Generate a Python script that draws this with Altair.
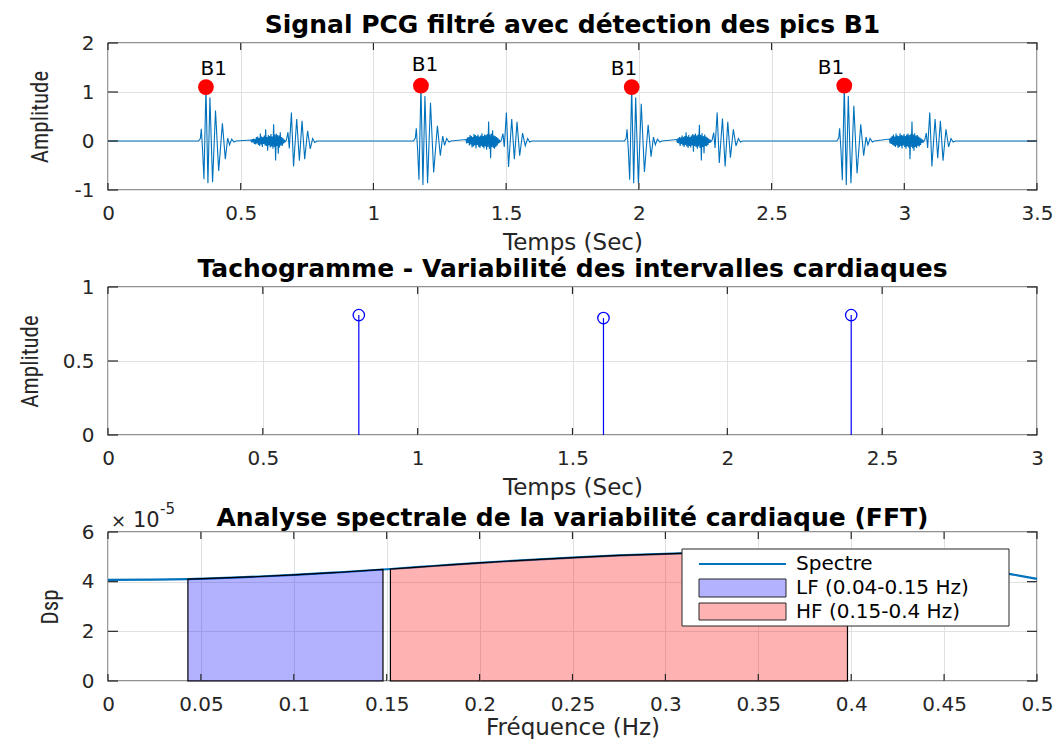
import altair as alt
import pandas as pd

# ---------------------------------------------------------------- style
FONT = "DejaVu Sans"
NARROW = "Liberation Sans Narrow, Roboto Condensed, Archivo Narrow, DejaVu Sans Condensed, sans-serif"
INK = "#262626"
GRID = "#e1e1e1"
SIG_BLUE = "#0072bd"
W = 929
H1, H2, H3 = 147, 148, 149

# ---------------------------------------------------------------- panel 1 : filtered PCG
t_end = 3.5
b1_peak_t = [0.369, 1.179, 1.973, 2.774]
b1_peak_amp = [1.10, 1.13, 1.10, 1.13]
b1_label_t = [0.398, 1.194, 1.944, 2.724]
b1_label_amp = [1.47, 1.55, 1.47, 1.48]

# S1 burst, sample offsets (ms) from each B1 peak, and the amplitude of each beat
s1_offset_ms = [-28, -21, -17.5, -12.5, -7.5, 0, 7.5, 15, 25, 36, 48, 62, 73, 82, 89, 97, 106, 113]
s1_amp = [
    [0, 0.05, 0.25, -0.20, -0.78, 1.10, -0.86, 0.89, -0.84, 0.62, -0.61, 0.36, -0.37, 0.06, -0.08, 0.04, -0.02, 0],
    [0, 0.06, 0.26, -0.18, -0.79, 1.13, -0.90, 0.92, -0.86, 0.78, -0.64, 0.31, -0.30, 0.10, -0.09, 0.05, -0.02, 0],
    [0, 0.05, 0.24, -0.20, -0.79, 1.10, -0.86, 0.89, -0.86, 0.76, -0.63, 0.33, -0.32, 0.08, -0.08, 0.04, -0.02, 0],
    [0, 0.06, 0.26, -0.20, -0.80, 1.13, -0.90, 0.92, -0.86, 0.72, -0.66, 0.34, -0.30, 0.08, -0.08, 0.05, -0.02, 0],
]

# S2 murmur-like noise, sampled every 2.5 ms from 170 ms after the peak
noise_start_ms = 170.0
noise_step_ms = 2.5
s2_noise = [
    [0.02, -0.03, 0.04, -0.03, 0.05, -0.06, 0.04, -0.07, 0.08, -0.05, 0.09, -0.08, 0.06, -0.10, 0.15, -0.07,
     0.09, -0.12, 0.08, -0.06, 0.11, -0.09, 0.24, -0.10, 0.08, -0.20, 0.12, -0.09, 0.10, -0.13, 0.14, -0.11,
     0.09, -0.16, 0.34, -0.12, 0.13, -0.40, 0.15, -0.10, 0.12, -0.26, 0.11, -0.13, 0.18, -0.09, 0.08, -0.10,
     0.06, -0.05, 0.03, -0.02],
    [0.03, -0.05, 0.07, -0.04, 0.08, -0.09, 0.12, -0.07, 0.10, -0.13, 0.08, -0.11, 0.14, -0.09, 0.12, -0.15,
     0.10, -0.08, 0.13, -0.12, 0.09, -0.14, 0.11, -0.10, 0.16, -0.12, 0.10, -0.15, 0.13, -0.11, 0.12, -0.18,
     0.14, -0.12, 0.40, -0.16, 0.13, -0.35, 0.15, -0.12, 0.22, -0.14, 0.11, -0.16, 0.10, -0.12, 0.08, -0.09,
     0.06, -0.05, 0.03, -0.02],
    [0.03, -0.04, 0.06, -0.05, 0.08, -0.10, 0.07, -0.06, 0.11, -0.09, 0.08, -0.12, 0.10, -0.08, 0.18, -0.11,
     0.09, -0.14, 0.12, -0.10, 0.08, -0.13, 0.11, -0.09, 0.14, -0.22, 0.12, -0.10, 0.15, -0.12, 0.11, -0.16,
     0.13, -0.11, 0.33, -0.14, 0.12, -0.40, 0.16, -0.12, 0.10, -0.25, 0.13, -0.10, 0.09, -0.11, 0.07, -0.08,
     0.05, -0.04, 0.03, -0.02],
    [0.04, -0.05, 0.07, -0.06, 0.10, -0.08, 0.13, -0.10, 0.09, -0.12, 0.15, -0.09, 0.11, -0.14, 0.10, -0.12,
     0.16, -0.10, 0.12, -0.15, 0.11, -0.09, 0.14, -0.12, 0.10, -0.16, 0.13, -0.11, 0.15, -0.13, 0.12, -0.37,
     0.14, -0.12, 0.40, -0.15, 0.13, -0.20, 0.16, -0.12, 0.11, -0.14, 0.12, -0.10, 0.09, -0.11, 0.07, -0.08,
     0.05, -0.04, 0.03, -0.02],
]

# S2 tonal part
s2_offset_ms = [303, 309, 314, 322, 330, 342, 352, 362, 372, 383, 393, 402, 410, 418]
s2_amp = [
    [0.02, 0.18, -0.15, 0.58, -0.52, 0.45, -0.40, 0.41, -0.37, 0.21, -0.16, 0.05, -0.03, 0],
    [0.02, 0.15, -0.12, 0.58, -0.53, 0.45, -0.37, 0.39, -0.30, 0.16, -0.10, 0.05, -0.02, 0],
    [0.02, 0.17, -0.14, 0.58, -0.45, 0.46, -0.52, 0.39, -0.34, 0.24, -0.10, 0.05, -0.02, 0],
    [0.02, 0.16, -0.14, 0.58, -0.52, 0.45, -0.35, 0.41, -0.40, 0.24, -0.12, 0.05, -0.02, 0],
]

p1_xticks = [0, 0.5, 1, 1.5, 2, 2.5, 3, 3.5]
p1_yticks = [-1, 0, 1, 2]

# ---------------------------------------------------------------- panel 2 : tachogram
rr_t = [0.81, 1.60, 2.40]
rr_val = [0.81, 0.79, 0.81]
p2_xticks = [0, 0.5, 1, 1.5, 2, 2.5, 3]
p2_yticks = [0, 0.5, 1]

# ---------------------------------------------------------------- panel 3 : HRV spectrum (x 1e-5)
freq = [0, 0.025, 0.043, 0.07, 0.1, 0.125, 0.148, 0.152, 0.175, 0.2, 0.225, 0.25,
        0.275, 0.3, 0.325, 0.35, 0.375, 0.398, 0.425, 0.45, 0.475, 0.4875, 0.5]
dsp_e5 = [4.07, 4.08, 4.10, 4.17, 4.27, 4.38, 4.49, 4.51, 4.63, 4.76, 4.87, 4.97,
          5.06, 5.12, 5.16, 5.17, 5.14, 5.07, 4.90, 4.69, 4.44, 4.28, 4.11]
lf_band = (0.04, 0.15)
hf_band = (0.15, 0.40)
legend_labels = ["Spectre", "LF (0.04-0.15 Hz)", "HF (0.15-0.4 Hz)"]
p3_xticks = [0, 0.05, 0.1, 0.15, 0.2, 0.25, 0.3, 0.35, 0.4, 0.45, 0.5]
p3_yticks = [0, 2, 4, 6]

# ---------------------------------------------------------------- tables
rows = [(0.0, 0.0)]
for k, t0 in enumerate(b1_peak_t):
    for dt, a in zip(s1_offset_ms, s1_amp[k]):
        rows.append((t0 + dt / 1000, a))
    for i, a in enumerate(s2_noise[k]):
        rows.append((t0 + (noise_start_ms + i * noise_step_ms) / 1000, a))
    for dt, a in zip(s2_offset_ms, s2_amp[k]):
        rows.append((t0 + dt / 1000, a))
rows.append((t_end, 0.0))
pcg = pd.DataFrame(rows, columns=["t", "amp"])
pcg["i"] = range(len(pcg))

peaks = pd.DataFrame({"t": b1_peak_t, "amp": b1_peak_amp})
labels = pd.DataFrame({"t": b1_label_t, "amp": b1_label_amp, "txt": ["B1"] * len(b1_label_t)})
tach = pd.DataFrame({"t": rr_t, "v": rr_val, "base": [0.0] * len(rr_t)})
spec = pd.DataFrame({"f": freq, "p": dsp_e5})
lf = spec[(spec.f >= lf_band[0]) & (spec.f <= lf_band[1])]
hf = spec[(spec.f > hf_band[0]) & (spec.f <= hf_band[1])]

LABEL_EXPR = "'' + datum.value"


def x_axis(values, title, tpad=8):
    return alt.Axis(values=values, title=title, grid=True, labelExpr=LABEL_EXPR,
                    labelPadding=13, titlePadding=tpad, labelFlush=False, labelOverlap=False)


def y_axis(values, title, tpad):
    return alt.Axis(values=values, title=title, grid=True, labelExpr=LABEL_EXPR,
                    labelPadding=14, titlePadding=tpad, titleFont=NARROW, titleFontSize=23)


def panel_title(text, offset=-5):
    return alt.Title(text, offset=offset)


def inner_ticks(X, Y, xticks, yticks, h):
    """MATLAB-style ticks drawn inside the box on all four sides."""
    xt = alt.Chart(pd.DataFrame({"v": xticks}))
    yt = alt.Chart(pd.DataFrame({"v": yticks}))
    kw = dict(color=INK, strokeWidth=1.2)
    return [
        xt.mark_rule(**kw).encode(x=X("v:Q"), y=alt.value(h), y2=alt.value(h - 7)),
        xt.mark_rule(**kw).encode(x=X("v:Q"), y=alt.value(0), y2=alt.value(7)),
        yt.mark_rule(**kw).encode(y=Y("v:Q"), x=alt.value(0), x2=alt.value(10)),
        yt.mark_rule(**kw).encode(y=Y("v:Q"), x=alt.value(W), x2=alt.value(W - 10)),
    ]


def channel_maker(enc, scale, axis):
    """Every layer of a panel shares one scale and one identical axis definition."""
    return lambda field: enc(field, scale=scale, axis=axis)


# ---------------------------------------------------------------- panel 1
X1 = channel_maker(alt.X, alt.Scale(domain=[0, 3.5], nice=False, zero=False), x_axis(p1_xticks, "Temps (Sec)"))
Y1 = channel_maker(alt.Y, alt.Scale(domain=[-1, 2], nice=False, zero=False), y_axis(p1_yticks, "Amplitude", 22))
sig = alt.Chart(pcg).mark_line(color=SIG_BLUE, strokeWidth=1.1, clip=True).encode(
    x=X1("t:Q"), y=Y1("amp:Q"), order="i:Q")
dots = alt.Chart(peaks).mark_circle(color="#ff0000", size=250, opacity=1).encode(x=X1("t:Q"), y=Y1("amp:Q"))
b1_txt = alt.Chart(labels).mark_text(font=FONT, fontSize=20, color="black").encode(
    x=X1("t:Q"), y=Y1("amp:Q"), text="txt:N")
panel1 = alt.layer(sig, dots, b1_txt, *inner_ticks(X1, Y1, p1_xticks, p1_yticks, H1)).properties(
    width=W, height=H1, title=panel_title("Signal PCG filtré avec détection des pics B1"))

# ---------------------------------------------------------------- panel 2
X2 = channel_maker(alt.X, alt.Scale(domain=[0, 3], nice=False, zero=False), x_axis(p2_xticks, "Temps (Sec)"))
Y2 = channel_maker(alt.Y, alt.Scale(domain=[0, 1], nice=False, zero=False), y_axis(p2_yticks, "Amplitude", 20))
stems = alt.Chart(tach).mark_rule(color="#0000ff", strokeWidth=1.2).encode(
    x=X2("t:Q"), y=Y2("base:Q"), y2="v:Q")
heads = alt.Chart(tach).mark_point(shape="circle", filled=False, color="#0000ff", size=130,
                                   strokeWidth=1.3, opacity=1).encode(x=X2("t:Q"), y=Y2("v:Q"))
panel2 = alt.layer(stems, heads, *inner_ticks(X2, Y2, p2_xticks, p2_yticks, H2)).properties(
    width=W, height=H2, title=panel_title("Tachogramme - Variabilité des intervalles cardiaques"))

# ---------------------------------------------------------------- panel 3
X3 = channel_maker(alt.X, alt.Scale(domain=[0, 0.5], nice=False, zero=False),
                   x_axis(p3_xticks, "Fréquence (Hz)", tpad=2))
Y3 = channel_maker(alt.Y, alt.Scale(domain=[0, 6], nice=False, zero=False), y_axis(p3_yticks, "Dsp", 19))
spec_line = alt.Chart(spec).mark_line(color=SIG_BLUE, strokeWidth=2.2, interpolate="monotone").encode(
    x=X3("f:Q"), y=Y3("p:Q"))


def band(df, colour):
    return alt.Chart(df).mark_area(fill=colour, fillOpacity=0.3, stroke="black", strokeWidth=1.2,
                                   interpolate="monotone").encode(x=X3("f:Q"), y=Y3("p:Q"))


lf_area = band(lf, "#0000ff")
hf_area = band(hf, "#ff0000")

one = alt.Chart(pd.DataFrame({"k": [0]}))


def label_at(text, px, py, size, align="left", baseline="alphabetic", color=INK):
    return one.mark_text(font=FONT, fontSize=size, align=align, baseline=baseline, color=color).encode(
        x=alt.value(px), y=alt.value(py), text=alt.value(text))


# axis multiplier, written above the top-left corner
exponent = [label_at("×", 3, -5, 18), label_at("10", 25, -5, 21), label_at("-5", 52, -18, 15)]

# legend box (top right of the spectrum panel)
LX0, LX1, LY0, LY1 = 574, 901, 17, 94
SW0, SW1 = 591, 678
leg_box = one.mark_rect(fill="white", stroke=INK, strokeWidth=1).encode(
    x=alt.value(LX0), x2=alt.value(LX1), y=alt.value(LY0), y2=alt.value(LY1))
leg_line = one.mark_rule(color=SIG_BLUE, strokeWidth=2.2).encode(
    x=alt.value(SW0), x2=alt.value(SW1), y=alt.value(32))
leg_lf = one.mark_rect(fill="#0000ff", fillOpacity=0.3, stroke=INK, strokeWidth=1).encode(
    x=alt.value(SW0), x2=alt.value(SW1), y=alt.value(47), y2=alt.value(65))
leg_hf = one.mark_rect(fill="#ff0000", fillOpacity=0.3, stroke=INK, strokeWidth=1).encode(
    x=alt.value(SW0), x2=alt.value(SW1), y=alt.value(71), y2=alt.value(88))
leg_text = [label_at(lab, 688, 32 + 24 * i, 20, baseline="middle", color="black")
            for i, lab in enumerate(legend_labels)]

panel3 = alt.layer(
    spec_line, lf_area, hf_area, *inner_ticks(X3, Y3, p3_xticks, p3_yticks, H3),
    *exponent, leg_box, leg_line, leg_lf, leg_hf, *leg_text,
).properties(width=W, height=H3,
             title=panel_title("Analyse spectrale de la variabilité cardiaque (FFT)", offset=-29))

chart = (
    alt.vconcat(panel1, panel2, panel3, spacing=1)
    .properties(padding={"left": 18, "top": 12, "right": 0, "bottom": 0})
    .configure_view(stroke=INK, strokeWidth=1.3)
    .configure_axis(domain=False, ticks=False, gridColor=GRID, gridWidth=1,
                    labelFont=FONT, labelFontSize=20, labelColor=INK,
                    titleFont=FONT, titleFontSize=23, titleFontWeight="normal", titleColor=INK)
    .configure_title(font=FONT, fontSize=25, fontWeight="bold", color="black", anchor="middle")
)

chart.save("out.html", embed_options={"renderer": "svg", "actions": False})
